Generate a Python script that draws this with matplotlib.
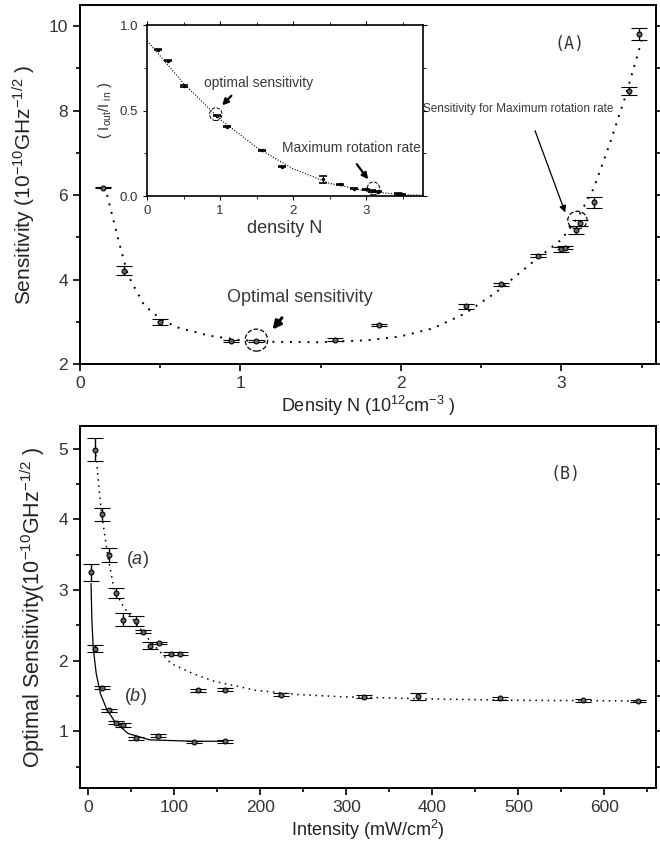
import matplotlib
matplotlib.use("Agg")
import matplotlib.pyplot as plt
from matplotlib.patches import Ellipse
from matplotlib.ticker import MultipleLocator
import numpy as np

# ---------------- data: panel A ----------------
dens_x = [0.147, 0.277, 0.50, 0.939, 1.10, 1.587, 1.861, 2.405, 2.624, 2.853, 3.000, 3.020, 3.093, 3.117, 3.205, 3.424, 3.485]
dens_y = [6.18, 4.21, 3.00, 2.55, 2.55, 2.58, 2.93, 3.37, 3.89, 4.57, 4.72, 4.76, 5.18, 5.35, 5.83, 8.46, 9.81]
dens_err = [0.02, 0.11, 0.06, 0.03, 0.03, 0.03, 0.03, 0.06, 0.03, 0.03, 0.06, 0.04, 0.09, 0.07, 0.13, 0.09, 0.14]
fitA_x = [0.15, 0.17, 0.20, 0.25, 0.30, 0.40, 0.50, 0.60, 0.80, 1.00, 1.20, 1.50, 1.80, 2.00, 2.20, 2.40, 2.60, 2.80, 3.00, 3.10, 3.20, 3.30, 3.40, 3.50]
fitA_y = [6.20, 6.00, 5.55, 4.80, 4.10, 3.40, 3.08, 2.88, 2.68, 2.57, 2.53, 2.52, 2.57, 2.66, 2.85, 3.20, 3.72, 4.35, 4.95, 5.45, 6.15, 7.20, 8.35, 9.65]

# inset
ins_x = [0.146, 0.28, 0.51, 0.955, 1.10, 1.58, 1.85, 2.41, 2.64, 2.84, 3.00, 3.08, 3.16, 3.43, 3.49]
ins_y = [0.858, 0.793, 0.646, 0.472, 0.407, 0.268, 0.173, 0.098, 0.069, 0.043, 0.039, 0.031, 0.026, 0.012, 0.010]
ins_err = [0.004, 0.004, 0.004, 0.004, 0.004, 0.004, 0.004, 0.02, 0.004, 0.004, 0.004, 0.004, 0.004, 0.004, 0.004]
fitI_x = [0.0, 0.5, 1.0, 1.5, 2.0, 2.5, 3.0, 3.5, 3.78]
fitI_y = [0.91, 0.66, 0.45, 0.285, 0.16, 0.075, 0.03, 0.008, 0.005]

# ---------------- data: panel B ----------------
int_a = [7.5, 15.4, 23.4, 31.8, 39.8, 55.2, 63.7, 71.1, 82.6, 96, 106, 127.4, 159.2, 223.4, 320, 383, 479, 574.6, 638.8]
sens_a = [4.99, 4.07, 3.50, 2.96, 2.58, 2.56, 2.41, 2.21, 2.25, 2.10, 2.10, 1.58, 1.59, 1.52, 1.49, 1.50, 1.47, 1.44, 1.43]
err_a = [0.165, 0.09, 0.10, 0.075, 0.09, 0.07, 0.02, 0.05, 0.02, 0.02, 0.02, 0.02, 0.02, 0.02, 0.02, 0.05, 0.02, 0.02, 0.02]
fit_a_x = [8, 15, 23, 30, 41, 56, 71, 96, 121, 146, 195, 245, 295, 394, 494, 643]
fit_a_y = [5.0, 4.1, 3.45, 3.0, 2.76, 2.52, 2.29, 1.96, 1.82, 1.71, 1.58, 1.52, 1.49, 1.46, 1.44, 1.43]

int_b = [3, 7.5, 15.4, 23.4, 31.8, 39.8, 55.2, 81, 123, 159]
sens_b = [3.25, 2.17, 1.62, 1.30, 1.12, 1.09, 0.90, 0.94, 0.85, 0.86]
err_b = [0.115, 0.05, 0.02, 0.02, 0.02, 0.03, 0.02, 0.02, 0.02, 0.02]
fit_b_x = [3, 4, 5.5, 9, 14, 21, 31, 46, 71, 121, 159]
fit_b_y = [3.09, 2.57, 2.19, 1.82, 1.53, 1.32, 1.13, 0.97, 0.88, 0.86, 0.86]

plt.rcParams['font.family'] = ['Liberation Sans', 'DejaVu Sans']
plt.rcParams['mathtext.fontset'] = 'custom'
plt.rcParams['mathtext.rm'] = 'Liberation Sans'
plt.rcParams['mathtext.it'] = 'Liberation Sans:italic'
TICKC = '#333333'
ANNC = '#3a3a3a'

fig = plt.figure(figsize=(6.6, 8.49), dpi=100)

def style(ax, fs=12.5):
    for s in ax.spines.values():
        s.set_linewidth(1.4)
    ax.tick_params(which='both', direction='out', top=False, right=True,
                   labelsize=fs, labelcolor=TICKC, width=1.2)
    ax.tick_params(which='major', length=5)
    ax.tick_params(which='minor', length=3)

ebkw = dict(fmt='o', ms=3.5, mfc='#666666', mec='black', mew=0.8,
            ecolor='black', elinewidth=1.0, capsize=6, capthick=1.4)

# ---------------- Panel A ----------------
axA = fig.add_axes([0.121, 0.571, 0.873, 0.423])
axA.plot(fitA_x, fitA_y, ls=(0, (1, 3.5)), color='black', lw=1.4)
axA.errorbar(dens_x, dens_y, yerr=dens_err, **ebkw)
axA.set_xlim(0, 3.59)
axA.set_ylim(2, 10.5)
axA.xaxis.set_major_locator(MultipleLocator(1))
axA.xaxis.set_minor_locator(MultipleLocator(0.5))
axA.yaxis.set_major_locator(MultipleLocator(2))
axA.yaxis.set_minor_locator(MultipleLocator(1))
style(axA)
axA.set_xlabel('Density N (10$^{12}$cm$^{-3}$ )', fontsize=13, color='#222222', labelpad=2)
axA.set_ylabel('Sensitivity (10$^{-10}$GHz$^{-1/2}$ )', fontsize=15, color='#222222', labelpad=8)
axA.text(3.05, 9.57, '(A)', family='DejaVu Sans Mono', fontsize=12, ha='center', va='center', color='#333333')
axA.add_patch(Ellipse((1.10, 2.57), 0.14, 0.52, fill=False, ls='--', lw=0.9, ec='black'))
axA.add_patch(Ellipse((3.10, 5.41), 0.12, 0.42, fill=False, ls='--', lw=0.9, ec='black'))
axA.annotate('', xy=(1.19, 2.77), xytext=(1.27, 3.15),
             arrowprops=dict(arrowstyle='-|>', lw=2.2, color='black', mutation_scale=12))
axA.text(1.37, 3.57, 'Optimal sensitivity', fontsize=13, ha='center', va='center', color=ANNC)
axA.annotate('', xy=(3.03, 5.53), xytext=(2.83, 7.59),
             arrowprops=dict(arrowstyle='-|>', lw=0.9, color='black', mutation_scale=10))
axA.text(2.73, 8.04, 'Sensitivity for Maximum rotation rate', fontsize=8.5, ha='center', va='center', color=ANNC)

# inset
axI = fig.add_axes([0.223, 0.769, 0.418, 0.201])
axI.plot(fitI_x, fitI_y, ls=(0, (1, 1.5)), color='black', lw=0.8)
axI.errorbar(ins_x, ins_y, yerr=ins_err, fmt='o', ms=1.5, mfc='black', mec='black',
             ecolor='black', elinewidth=0.8, capsize=3, capthick=1.2)
axI.set_xlim(0, 3.78)
axI.set_ylim(0, 1.0)
axI.xaxis.set_major_locator(MultipleLocator(1))
axI.xaxis.set_minor_locator(MultipleLocator(0.5))
axI.yaxis.set_major_locator(MultipleLocator(0.5))
axI.yaxis.set_minor_locator(MultipleLocator(0.25))
for s in axI.spines.values():
    s.set_linewidth(1.2)
axI.tick_params(which='both', direction='out', top=True, right=True, labelsize=9.5, labelcolor=TICKC)
axI.tick_params(which='major', length=3)
axI.tick_params(which='minor', length=2)
axI.set_xlabel('density N', fontsize=13, color='#333333', labelpad=2)
axI.set_ylabel('( I$_{\\rm out}$/I$_{\\rm \\ in}$ )', fontsize=10.5, color='#333333')
axI.add_patch(Ellipse((0.94, 0.48), 0.17, 0.075, fill=False, ls='--', lw=0.7, ec='black'))
axI.add_patch(Ellipse((3.10, 0.045), 0.17, 0.075, fill=False, ls='--', lw=0.7, ec='black'))
axI.annotate('', xy=(1.0, 0.52), xytext=(1.18, 0.6),
             arrowprops=dict(arrowstyle='-|>', lw=1.6, color='black', mutation_scale=9))
axI.text(1.53, 0.66, 'optimal sensitivity', fontsize=10, ha='center', va='center', color=ANNC)
axI.annotate('', xy=(3.05, 0.085), xytext=(2.85, 0.2),
             arrowprops=dict(arrowstyle='-|>', lw=1.6, color='black', mutation_scale=9))
axI.text(2.8, 0.28, 'Maximum rotation rate', fontsize=10, ha='center', va='center', color=ANNC)

# ---------------- Panel B ----------------
axB = fig.add_axes([0.121, 0.072, 0.873, 0.426])
axB.plot(fit_a_x, fit_a_y, ls=(0, (1, 3)), color='black', lw=1.1)
axB.plot(fit_b_x, fit_b_y, ls='-', color='black', lw=0.9)
axB.errorbar(int_a, sens_a, yerr=err_a, **ebkw)
axB.errorbar(int_b, sens_b, yerr=err_b, **ebkw)
axB.set_xlim(-10, 660)
axB.set_ylim(0.2, 5.32)
axB.xaxis.set_major_locator(MultipleLocator(100))
axB.xaxis.set_minor_locator(MultipleLocator(50))
axB.yaxis.set_major_locator(MultipleLocator(1))
axB.yaxis.set_minor_locator(MultipleLocator(0.5))
style(axB)
axB.set_xlabel('Intensity (mW/cm$^2$)', fontsize=13, color='#222222', labelpad=2)
axB.set_ylabel('Optimal Sensitivity(10$^{-10}$GHz$^{-1/2}$ )', fontsize=15.5, color='#222222', labelpad=8)
axB.text(555, 4.65, '(B)', family='DejaVu Sans Mono', fontsize=12, ha='center', va='center', color='#333333')
axB.text(57, 3.44, '($a$)', fontsize=13, ha='center', va='center', color='#333333')
axB.text(55, 1.49, '($b$)', fontsize=13, ha='center', va='center', color='#333333')

fig.savefig('out.png', dpi=100)
